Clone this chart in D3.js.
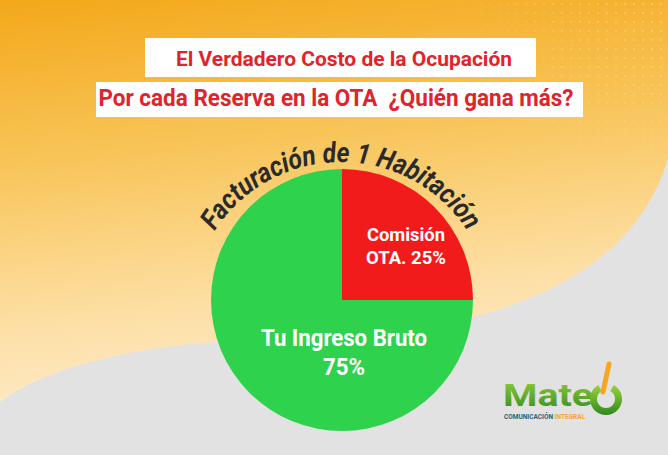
<!DOCTYPE html>
<html>
<head>
<meta charset="utf-8">
<script src="https://cdn.jsdelivr.net/npm/d3@7"></script>
<style>
  html, body { margin: 0; padding: 0; background: #fff; }
  svg { display: block; }
  text { white-space: pre; }
</style>
</head>
<body>
<script>
// chart data
const categories = ["Comisión OTA", "Tu Ingreso Bruto"];
const shares = [25, 75];
const sliceLabels = [["Comisión", "OTA. 25%"], ["Tu Ingreso Bruto", "75%"]];
const sliceColors = ["#F21B1B", "#2FD24D"];
const titleLines = ["El Verdadero Costo de la Ocupación", "Por cada Reserva en la OTA  ¿Quién gana más?"];
const pieTitle = "Facturación de 1 Habitación";

const W = 668, H = 455;
const cx = 342, cy = 300, R = 131;

const svg = d3.select("body").append("svg")
    .attr("width", W)
    .attr("height", H);

const defs = svg.append("defs");

// background gradient (orange to cream)
const bg = defs.append("linearGradient")
    .attr("id", "bgGrad")
    .attr("x1", "0%").attr("y1", "0%")
    .attr("x2", "15%").attr("y2", "100%");
bg.append("stop").attr("offset", "0%").attr("stop-color", "#F4A81A");
bg.append("stop").attr("offset", "35%").attr("stop-color", "#F8C458");
bg.append("stop").attr("offset", "70%").attr("stop-color", "#FDDFA4");
bg.append("stop").attr("offset", "100%").attr("stop-color", "#FFEFD6");

const dots = defs.append("pattern")
    .attr("id", "dots")
    .attr("width", 9).attr("height", 9)
    .attr("patternUnits", "userSpaceOnUse");
dots.append("circle").attr("cx", 4).attr("cy", 4).attr("r", 1.1).attr("fill", "#fff");

const dotFade = defs.append("radialGradient")
    .attr("id", "dotFade")
    .attr("cx", "100%").attr("cy", "0%").attr("r", "100%");
dotFade.append("stop").attr("offset", "0%").attr("stop-color", "#fff").attr("stop-opacity", 0.35);
dotFade.append("stop").attr("offset", "100%").attr("stop-color", "#fff").attr("stop-opacity", 0);
const dotMask = defs.append("mask").attr("id", "dotMask");
dotMask.append("rect").attr("x", 420).attr("y", 0).attr("width", 248).attr("height", 220)
    .attr("fill", "url(#dotFade)");

svg.append("rect")
    .attr("width", W).attr("height", H)
    .attr("fill", "url(#bgGrad)");

svg.append("rect")
    .attr("x", 420).attr("y", 0).attr("width", 248).attr("height", 220)
    .attr("fill", "url(#dots)")
    .attr("mask", "url(#dotMask)");

// grey swoosh
svg.append("path")
    .attr("d", "M668,158 C630,290 470,336 300,338 C170,340 60,358 0,402 L0,455 L668,455 Z")
    .attr("fill", "#E2E2E2");

// title boxes
const titleBoxes = [
    { x: 145, y: 38, w: 391, h: 39, tx: 344, base: 66, size: 21, len: 336 },
    { x: 96, y: 82, w: 487, h: 35, tx: 336, base: 106, size: 24, len: 475 }
];
titleLines.forEach((line, i) => {
    const b = titleBoxes[i];
    svg.append("rect")
        .attr("x", b.x).attr("y", b.y)
        .attr("width", b.w).attr("height", b.h)
        .attr("fill", "#fff");
    svg.append("text")
        .attr("x", b.tx)
        .attr("y", b.base)
        .attr("text-anchor", "middle")
        .attr("font-family", "Roboto, sans-serif")
        .attr("font-weight", "bold")
        .attr("font-size", b.size)
        .attr("fill", "#E1232B")
        .attr("textLength", b.len)
        .attr("lengthAdjust", "spacingAndGlyphs")
        .text(line);
});

// pie
const pie = d3.pie().sort(null).value(d => d);
const arcs = pie(shares);
const arc = d3.arc().innerRadius(0).outerRadius(R);

const g = svg.append("g")
    .attr("transform", `translate(${cx},${cy})`);

g.selectAll("path.slice")
    .data(arcs)
    .enter().append("path")
    .attr("class", "slice")
    .attr("d", arc)
    .attr("fill", (d, i) => sliceColors[i]);

// labels: small slice at its centroid, big slice straight below the centre
const labelArc = d3.arc().innerRadius(82).outerRadius(82);
const labelLens = [[78, 80], [166, 42]];
arcs.forEach((d, i) => {
    let p = labelArc.centroid(d);
    if (i === 1) p = [2, 60];
    const t = g.append("text")
        .attr("text-anchor", "middle")
        .attr("font-family", "Roboto, sans-serif")
        .attr("font-weight", "bold")
        .attr("font-size", i === 0 ? 19 : 24)
        .attr("fill", "#fff");
    sliceLabels[i].forEach((s, j) => {
        t.append("tspan")
            .attr("x", p[0] + (i === 0 ? 6 : 0))
            .attr("y", p[1] + (i === 0 ? -1 : -14) + j * (i === 0 ? 23 : 29))
            .attr("textLength", labelLens[i][j])
            .attr("lengthAdjust", "spacingAndGlyphs")
            .text(s);
    });
});

// curved title over the pie
const tr = 150, tcy = 312;
const tp = d3.path();
tp.arc(cx - 1, tcy, tr, -Math.PI / 2 - 1.1, -Math.PI / 2 + 1.1, false);
defs.append("path").attr("id", "titleArc").attr("d", tp.toString());
svg.append("text")
    .attr("font-family", "Roboto, sans-serif")
    .attr("font-weight", "bold")
    .attr("font-style", "italic")
    .attr("font-size", 28)
    .attr("fill", "#2A2A2A")
    .append("textPath")
    .attr("href", "#titleArc")
    .attr("startOffset", "50%")
    .attr("text-anchor", "middle")
    .attr("textLength", 300)
    .attr("lengthAdjust", "spacingAndGlyphs")
    .text(pieTitle);

// logo
const logoGrad = defs.append("linearGradient")
    .attr("id", "logoGrad")
    .attr("x1", "0%").attr("y1", "0%").attr("x2", "0%").attr("y2", "100%");
logoGrad.append("stop").attr("offset", "0%").attr("stop-color", "#9BD33A");
logoGrad.append("stop").attr("offset", "100%").attr("stop-color", "#2E8A1E");

const logo = svg.append("g");
logo.append("text")
    .attr("x", 503).attr("y", 406)
    .attr("font-family", "Roboto, sans-serif")
    .attr("font-weight", "bold")
    .attr("font-size", 32)
    .attr("fill", "url(#logoGrad)")
    .attr("textLength", 90)
    .attr("lengthAdjust", "spacingAndGlyphs")
    .text("Mate");
const ring = d3.arc().innerRadius(9).outerRadius(16)
    .startAngle(0.5).endAngle(2 * Math.PI - 0.5);
logo.append("path")
    .attr("transform", "translate(606,399)")
    .attr("d", ring())
    .attr("fill", "url(#logoGrad)");
logo.append("line")
    .attr("x1", 609).attr("y1", 364)
    .attr("x2", 603).attr("y2", 392)
    .attr("stroke", "#F5A623")
    .attr("stroke-width", 5)
    .attr("stroke-linecap", "round");
const sub = logo.append("text")
    .attr("x", 504).attr("y", 419)
    .attr("font-family", "Roboto, sans-serif")
    .attr("font-weight", "bold")
    .attr("font-size", 6.5);
sub.append("tspan").attr("fill", "#2F5F6F").text("COMUNICACIÓN ");
sub.append("tspan").attr("fill", "#F5A623").text("INTEGRAL");
</script>
</body>
</html>
